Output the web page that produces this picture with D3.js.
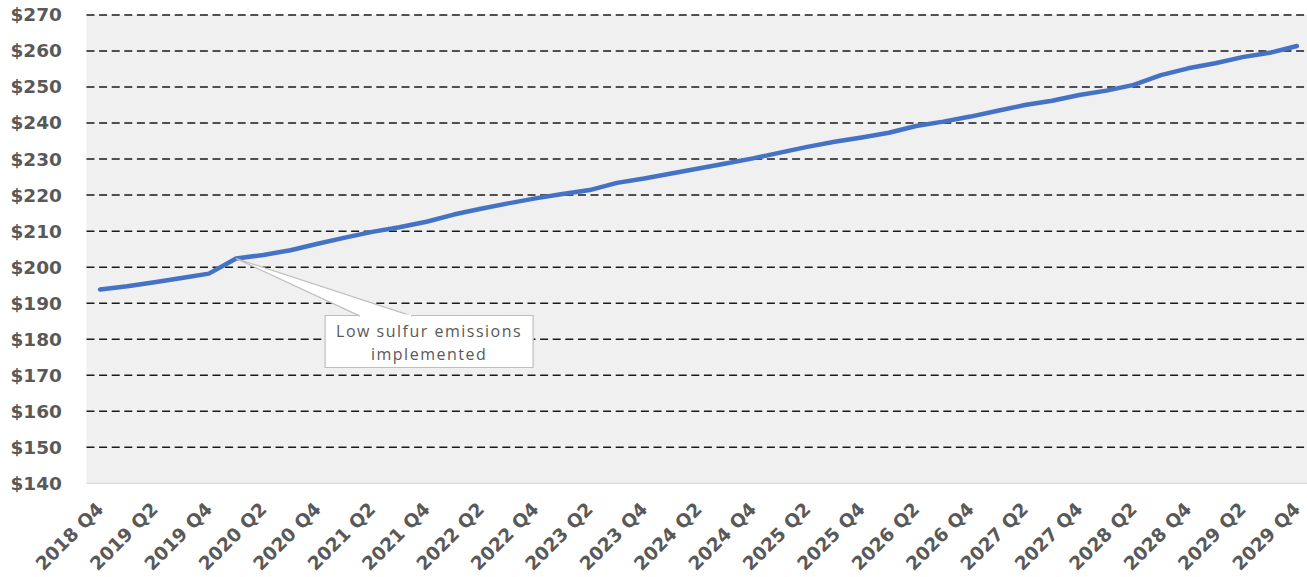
<!DOCTYPE html>
<html>
<head>
<meta charset="utf-8">
<script src="https://cdn.jsdelivr.net/npm/d3@7"></script>
<style>
  body { margin: 0; background: #fff; }
  svg { display: block; }
</style>
</head>
<body>
<div id="chart"></div>
<script>
// quarters and price values
var quarters = ["2018 Q4",
  "2019 Q1", "2019 Q2", "2019 Q3", "2019 Q4",
  "2020 Q1", "2020 Q2", "2020 Q3", "2020 Q4",
  "2021 Q1", "2021 Q2", "2021 Q3", "2021 Q4",
  "2022 Q1", "2022 Q2", "2022 Q3", "2022 Q4",
  "2023 Q1", "2023 Q2", "2023 Q3", "2023 Q4",
  "2024 Q1", "2024 Q2", "2024 Q3", "2024 Q4",
  "2025 Q1", "2025 Q2", "2025 Q3", "2025 Q4",
  "2026 Q1", "2026 Q2", "2026 Q3", "2026 Q4",
  "2027 Q1", "2027 Q2", "2027 Q3", "2027 Q4",
  "2028 Q1", "2028 Q2", "2028 Q3", "2028 Q4",
  "2029 Q1", "2029 Q2", "2029 Q3", "2029 Q4"]

var prices = [193.8,
  194.7, 195.8, 197.0, 198.2,
  202.4, 203.4, 204.7, 206.5,
  208.2, 209.8, 211.1, 212.6,
  214.6, 216.2, 217.7, 219.1,
  220.3, 221.4, 223.4, 224.6,
  226.0, 227.4, 228.8, 230.2,
  231.8, 233.4, 234.8, 236.0,
  237.3, 239.2, 240.4, 241.8,
  243.4, 245.0, 246.2, 247.8,
  249.0, 250.6, 253.3, 255.2,
  256.6, 258.3, 259.5, 261.4]

var yTicks = [140, 150, 160, 170, 180, 190, 200, 210, 220, 230, 240, 250, 260, 270]
var xLabels = quarters.filter(function(d, i) { return i % 2 === 0 })

var noteQuarter = "2020 Q1"
var noteLines = ["Low sulfur emissions", "implemented"]

var width = 1307
var height = 577
var plotLeft = 86.5
var plotRight = 1310.5
var plotTop = 15
var plotBottom = 483.3

var svg = d3.select("#chart").append("svg")
  .attr("width", width)
  .attr("height", height)

var x = d3.scalePoint()
  .domain(quarters)
  .range([plotLeft, plotRight])
  .padding(0.5)

var y = d3.scaleLinear()
  .domain([140, 270])
  .range([plotBottom, plotTop])

// plot area background
svg.append("rect")
  .attr("x", plotLeft)
  .attr("y", plotTop)
  .attr("width", width - plotLeft)
  .attr("height", plotBottom - plotTop)
  .attr("fill", "#f0f0f0")

// dashed gridlines
svg.append("g")
  .selectAll("line")
  .data(yTicks.filter(function(d) { return d > 140 }))
  .enter().append("line")
  .attr("x1", plotLeft)
  .attr("x2", width)
  .attr("y1", function(d) { return y(d) })
  .attr("y2", function(d) { return y(d) })
  .attr("stroke", "#1a1a1a")
  .attr("stroke-width", 1.5)
  .attr("stroke-dasharray", "8,4.6")

// bottom axis line
svg.append("line")
  .attr("x1", plotLeft)
  .attr("x2", width)
  .attr("y1", y(140))
  .attr("y2", y(140))
  .attr("stroke", "#d9d9d9")
  .attr("stroke-width", 1.3)

// y axis
var yAxis = d3.axisLeft(y)
  .tickValues(yTicks)
  .tickSize(0)
  .tickPadding(0)
  .tickFormat(function(d) { return "$" + d })

var gy = svg.append("g")
  .attr("transform", "translate(62,0)")
  .call(yAxis)
gy.select(".domain").remove()
gy.selectAll("text")
  .attr("font-family", "DejaVu Sans")
  .attr("font-weight", "bold")
  .attr("font-size", 18.5)
  .attr("fill", "#595959")

// x axis
var xAxis = d3.axisBottom(x)
  .tickValues(xLabels)
  .tickSize(0)
  .tickPadding(0)

var gx = svg.append("g")
  .attr("transform", "translate(0," + plotBottom + ")")
  .call(xAxis)
gx.select(".domain").remove()
gx.selectAll("text")
  .attr("font-family", "DejaVu Sans")
  .attr("font-weight", "bold")
  .attr("font-size", 18.5)
  .attr("fill", "#595959")
  .attr("text-anchor", "end")
  .attr("dy", null)
  .attr("y", 0)
  .attr("transform", "translate(4,27) rotate(-45)")

// price line
var line = d3.line()
  .x(function(d, i) { return x(quarters[i]) })
  .y(function(d) { return y(d) })

svg.append("path")
  .datum(prices)
  .attr("d", line)
  .attr("fill", "none")
  .attr("stroke", "#4472c4")
  .attr("stroke-width", 4.5)
  .attr("stroke-linejoin", "round")
  .attr("stroke-linecap", "round")

// callout
var px = x(noteQuarter)
var py = y(prices[quarters.indexOf(noteQuarter)])
var bx = px + 89, by = py + 57, bw = 208, bh = 52

var note = svg.append("g")
note.append("path")
  .attr("d", "M" + bx + "," + by + "h" + bw + "v" + bh + "h" + (-bw) + "Z")
  .attr("fill", "#fff")
  .attr("stroke", "#bfbfbf")
  .attr("stroke-width", 1.2)
note.append("path")
  .attr("d", "M" + (bx + 35) + "," + (by + 0.6) + "L" + px + "," + py + "L" + (bx + 87) + "," + (by + 0.6))
  .attr("fill", "#fff")
  .attr("stroke", "#bfbfbf")
  .attr("stroke-width", 1.2)
note.append("rect")
  .attr("x", bx + 36)
  .attr("y", by - 1)
  .attr("width", 50)
  .attr("height", 2.5)
  .attr("fill", "#fff")

note.selectAll("text")
  .data(noteLines)
  .enter().append("text")
  .attr("x", bx + bw / 2)
  .attr("y", function(d, i) { return by + 21 + i * 23 })
  .attr("text-anchor", "middle")
  .attr("font-family", "Open Sans")
  .attr("font-size", 16)
  .attr("letter-spacing", 1.5)
  .attr("fill", "#595959")
  .text(function(d) { return d })
</script>
</body>
</html>
